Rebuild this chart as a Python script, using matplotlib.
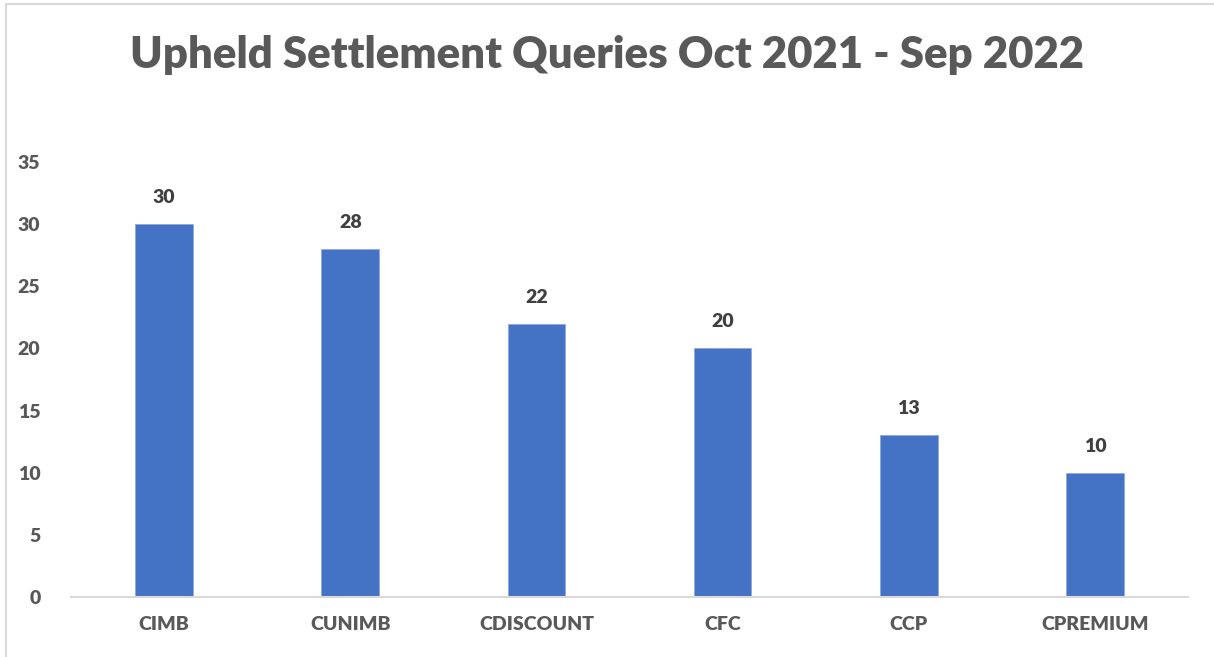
import matplotlib.pyplot as plt
from matplotlib.patches import Rectangle

# Data
categories = ['CIMB', 'CUNIMB', 'CDISCOUNT', 'CFC', 'CCP', 'CPREMIUM']
queries = [30, 28, 22, 20, 13, 10]
y_ticks = [0, 5, 10, 15, 20, 25, 30, 35]

BAR_COLOR = '#4472C4'
TEXT_GRAY = '#595959'
LABEL_DARK = '#404040'

plt.rcParams['font.family'] = ['Lato', 'DejaVu Sans']
plt.rcParams['font.weight'] = 'bold'

fig = plt.figure(figsize=(12.14, 6.57), dpi=100)
ax = fig.add_axes([71 / 1214, 1 - 597 / 657, (1188 - 71) / 1214, (597 - 162) / 657])

# outer chart border (light gray)
fig.patches.append(Rectangle((6 / 1214, -0.05), 1.1, 1 - 4 / 657 + 0.05,
                             transform=fig.transFigure, fill=False,
                             edgecolor='#D9D9D9', linewidth=1.5))

x = range(len(categories))
bars = ax.bar(x, queries, width=0.31, color=BAR_COLOR, edgecolor='#8FAADC', linewidth=0.6)

for rect, val in zip(bars, queries):
    ax.annotate(str(val), (rect.get_x() + rect.get_width() / 2, rect.get_height()),
                xytext=(0, 13), textcoords='offset points', ha='center', va='bottom',
                fontsize=14, fontweight='heavy', color=LABEL_DARK)

ax.set_xlim(-0.5, len(categories) - 0.5)
ax.set_ylim(0, 35)
ax.set_yticks(y_ticks)
ax.set_xticks(list(x))
ax.set_xticklabels(categories, fontweight='heavy')
ax.set_yticklabels([str(t) for t in y_ticks], fontweight='heavy')

for side in ['top', 'right', 'left']:
    ax.spines[side].set_visible(False)
ax.spines['bottom'].set_color('#D9D9D9')
ax.spines['bottom'].set_linewidth(1.5)

ax.tick_params(axis='both', length=0, labelsize=14, labelcolor=TEXT_GRAY)
ax.tick_params(axis='y', pad=22)
ax.tick_params(axis='x', pad=14)

fig.text(0.5, 1 - 55 / 657, 'Upheld Settlement Queries Oct 2021 - Sep 2022',
         ha='center', va='center', fontsize=31.5, fontweight='heavy', color=TEXT_GRAY)

fig.savefig('out.png', dpi=100)
